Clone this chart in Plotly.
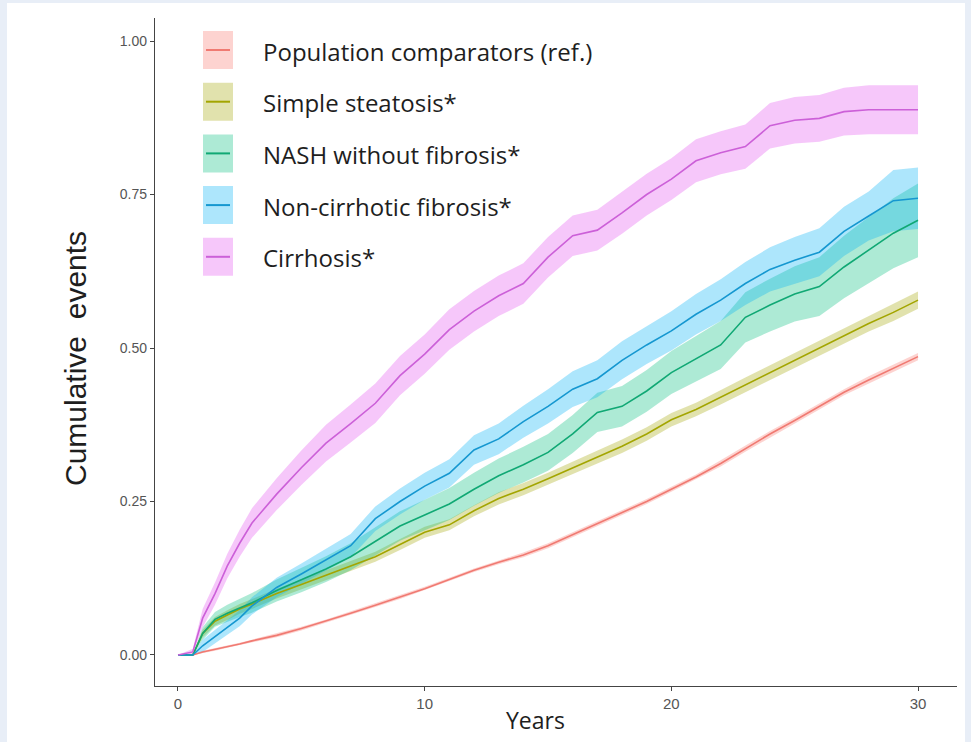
import plotly.graph_objects as go

# ---------------- data ----------------
years = [0, 0.6, 1, 1.5, 2, 2.5, 3, 4, 5, 6, 7, 8, 9, 10, 11, 12, 13, 14, 15,
         16, 17, 18, 19, 20, 21, 22, 23, 24, 25, 26, 27, 28, 29, 30]

series_names = ["Population comparators (ref.)", "Simple steatosis*",
                "NASH without fibrosis*", "Non-cirrhotic fibrosis*", "Cirrhosis*"]

population = [0, 0, 0.005, 0.009, 0.014, 0.018, 0.023, 0.032, 0.043, 0.055, 0.068,
              0.081, 0.094, 0.108, 0.123, 0.138, 0.151, 0.163, 0.178, 0.196, 0.215,
              0.232, 0.250, 0.270, 0.290, 0.312, 0.336, 0.360, 0.382, 0.405, 0.428,
              0.448, 0.467, 0.486]
population_hw = [0, 0, 0.002, 0.002, 0.002, 0.002, 0.002, 0.003, 0.003, 0.003, 0.003,
                 0.003, 0.003, 0.003, 0.003, 0.003, 0.003, 0.004, 0.004, 0.004, 0.004,
                 0.004, 0.004, 0.004, 0.004, 0.005, 0.005, 0.005, 0.005, 0.005, 0.005,
                 0.006, 0.006, 0.006]

steatosis = [0, 0, 0.035, 0.055, 0.065, 0.075, 0.083, 0.100, 0.115, 0.130, 0.145,
             0.160, 0.180, 0.200, 0.212, 0.235, 0.255, 0.270, 0.287, 0.305, 0.322,
             0.340, 0.360, 0.383, 0.400, 0.420, 0.440, 0.460, 0.480, 0.500, 0.520,
             0.540, 0.558, 0.578]
steatosis_hw = [0, 0, 0.006, 0.007, 0.008, 0.008, 0.008, 0.008, 0.008, 0.008, 0.008,
                0.008, 0.009, 0.009, 0.009, 0.009, 0.010, 0.010, 0.010, 0.010, 0.010,
                0.011, 0.011, 0.011, 0.011, 0.012, 0.012, 0.012, 0.012, 0.013, 0.013,
                0.013, 0.014, 0.014]

nash = [0, 0, 0.035, 0.058, 0.068, 0.077, 0.085, 0.105, 0.122, 0.140, 0.160,
        0.185, 0.210, 0.228, 0.246, 0.270, 0.292, 0.310, 0.330, 0.360, 0.395,
        0.405, 0.430, 0.460, 0.482, 0.505, 0.550, 0.570, 0.588, 0.600, 0.632,
        0.660, 0.687, 0.708]
nash_hw = [0, 0, 0.010, 0.012, 0.014, 0.015, 0.016, 0.018, 0.020, 0.021, 0.022,
           0.023, 0.024, 0.025, 0.026, 0.027, 0.028, 0.029, 0.030, 0.031, 0.032,
           0.033, 0.034, 0.035, 0.037, 0.039, 0.041, 0.043, 0.045, 0.048, 0.051,
           0.054, 0.057, 0.060]

fibrosis = [0, 0, 0.015, 0.030, 0.045, 0.060, 0.080, 0.110, 0.132, 0.155, 0.178,
            0.222, 0.250, 0.275, 0.296, 0.334, 0.352, 0.380, 0.405, 0.433, 0.450,
            0.480, 0.505, 0.528, 0.555, 0.578, 0.605, 0.628, 0.643, 0.656, 0.690,
            0.715, 0.740, 0.744]
fibrosis_hw = [0, 0, 0.010, 0.011, 0.012, 0.013, 0.014, 0.016, 0.017, 0.018, 0.019,
               0.020, 0.021, 0.022, 0.023, 0.024, 0.025, 0.026, 0.028, 0.029, 0.030,
               0.031, 0.031, 0.032, 0.033, 0.034, 0.035, 0.036, 0.038, 0.039, 0.040,
               0.040, 0.050, 0.050]

cirrhosis = [0, 0.005, 0.060, 0.100, 0.145, 0.182, 0.215, 0.262, 0.305, 0.345, 0.377,
             0.410, 0.455, 0.490, 0.530, 0.560, 0.585, 0.605, 0.648, 0.683, 0.692,
             0.720, 0.750, 0.775, 0.805, 0.818, 0.828, 0.862, 0.871, 0.874, 0.885,
             0.888, 0.888, 0.888]
cirrhosis_hw = [0, 0.005, 0.015, 0.018, 0.020, 0.022, 0.024, 0.026, 0.028, 0.030, 0.031,
                0.032, 0.032, 0.032, 0.033, 0.033, 0.033, 0.033, 0.033, 0.033, 0.033,
                0.034, 0.034, 0.034, 0.035, 0.035, 0.036, 0.037, 0.038, 0.038, 0.039,
                0.040, 0.040, 0.040]

x_ticks = [0, 10, 20, 30]
y_ticks = [0, 0.25, 0.5, 0.75, 1.0]
y_ticktext = ["0.00", "0.25", "0.50", "0.75", "1.00"]

# ---------------- styles ----------------
line_colors = ["#F07A72", "#A3A500", "#10A874", "#1597D0", "#CC60D8"]
band_colors = ["rgba(248,118,109,0.32)", "rgba(163,165,0,0.32)",
               "rgba(0,191,125,0.32)", "rgba(0,176,246,0.32)",
               "rgba(231,107,243,0.38)"]

values = [population, steatosis, nash, fibrosis, cirrhosis]
halfw = [population_hw, steatosis_hw, nash_hw, fibrosis_hw, cirrhosis_hw]

W, H = 971, 742
L, R, T, B = 155, 14, 18, 56
pw, ph = W - L - R, H - T - B
PAGE_BG = "#e8eef7"


def px(xp):
    return (xp - L) / pw


def py(yp):
    return (H - B - yp) / ph


fig = go.Figure()

# confidence ribbons first
for name, v, hw, bc in zip(series_names, values, halfw, band_colors):
    upper = [a + b for a, b in zip(v, hw)]
    lower = [a - b for a, b in zip(v, hw)]
    fig.add_trace(go.Scatter(
        x=years + years[::-1], y=upper + lower[::-1],
        fill="toself", fillcolor=bc, line=dict(width=0),
        mode="lines", hoverinfo="skip", showlegend=False, name=name + " CI"))

# cumulative-incidence lines on top
for name, v, lc in zip(series_names, values, line_colors):
    fig.add_trace(go.Scatter(
        x=years, y=v, mode="lines", name=name,
        line=dict(color=lc, width=1.6), showlegend=False))

shapes = [
    # white card on light-blue page
    dict(type="rect", xref="paper", yref="paper", x0=px(7), x1=px(965),
         y0=py(H + 5), y1=py(3), fillcolor="white", line=dict(width=0), layer="below"),
]
annotations = []

# manual legend (key box with centre line + label)
row0, row_step = 50, 51.7
for i, (name, lc, bc) in enumerate(zip(series_names, line_colors, band_colors)):
    cy = row0 + i * row_step
    shapes.append(dict(type="rect", xref="paper", yref="paper",
                       x0=px(203), x1=px(233), y0=py(cy + 19), y1=py(cy - 19),
                       fillcolor=bc, line=dict(width=0)))
    shapes.append(dict(type="line", xref="paper", yref="paper",
                       x0=px(206), x1=px(230), y0=py(cy), y1=py(cy),
                       line=dict(color=lc, width=2)))
    annotations.append(dict(xref="paper", yref="paper", x=px(261), y=py(cy + 1),
                            xanchor="left", yanchor="middle", showarrow=False,
                            text=name, font=dict(family="Open Sans", size=24, color="#1e1e1e")))

# axis titles
annotations.append(dict(xref="paper", yref="paper", x=px(535), y=py(720),
                        xanchor="center", yanchor="middle", showarrow=False,
                        text="Years", font=dict(family="Open Sans", size=23, color="#1e1e1e")))
annotations.append(dict(xref="paper", yref="paper", x=px(75), y=py(359),
                        xanchor="center", yanchor="middle", showarrow=False, textangle=-90,
                        text="Cumulative\u00a0 events",
                        font=dict(family="Liberation Sans, Arial", size=30, color="#1e1e1e")))

fig.update_layout(
    width=W, height=H,
    margin=dict(l=L, r=R, t=T, b=B, pad=0),
    paper_bgcolor=PAGE_BG,
    plot_bgcolor="white",
    shapes=shapes,
    annotations=annotations,
    showlegend=False,
    xaxis=dict(range=[-0.932, 31.58], tickvals=x_ticks, ticks="outside", ticklen=4,
               tickcolor="#444", tickwidth=1, showline=True, linecolor="#444", linewidth=1.3,
               showgrid=False, zeroline=False,
               tickfont=dict(family="Liberation Sans Narrow, Liberation Sans, Arial",
                             size=15, color="#555")),
    yaxis=dict(range=[-0.0505, 1.0375], tickvals=y_ticks, ticktext=y_ticktext,
               ticks="outside", ticklen=4, tickcolor="#444", tickwidth=1,
               showline=True, linecolor="#444", linewidth=1.3,
               showgrid=False, zeroline=False,
               tickfont=dict(family="Liberation Sans Narrow, Liberation Sans, Arial",
                             size=14, color="#555")),
)

fig.write_html(
    "out.html",
    config={"displayModeBar": False},
    post_script=("document.body.style.margin='0';"
                 "document.body.style.overflow='hidden';"
                 "document.body.style.background='" + PAGE_BG + "';"),
)
